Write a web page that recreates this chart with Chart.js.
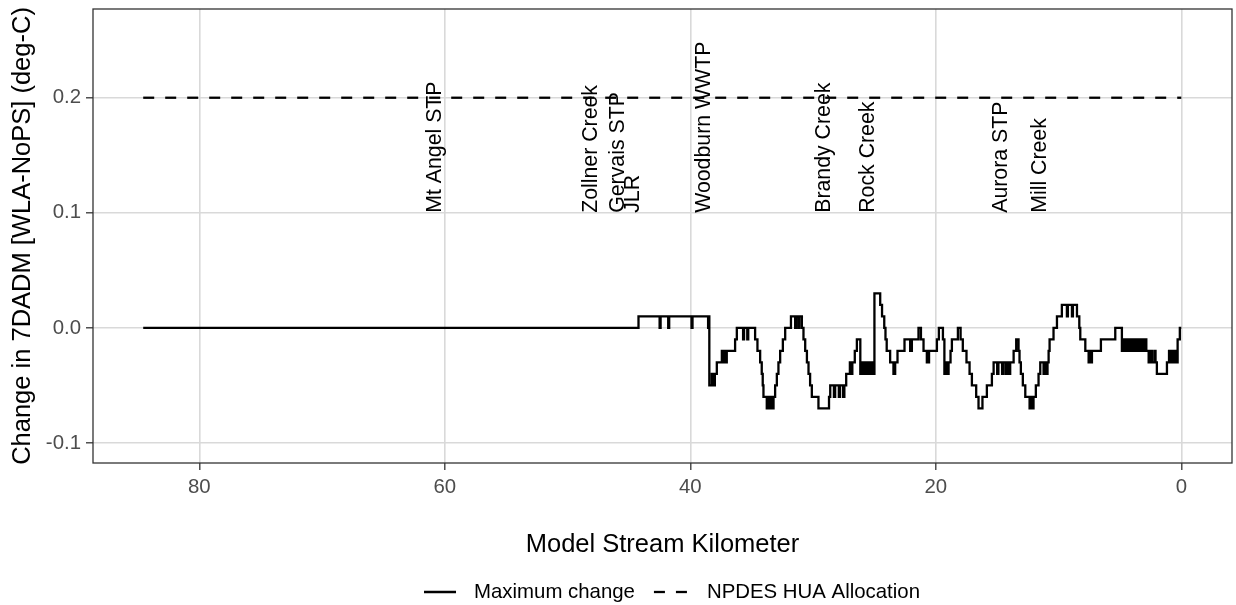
<!DOCTYPE html>
<html>
<head>
<meta charset="utf-8">
<script src="https://cdn.jsdelivr.net/npm/chart.js@4.4.0/dist/chart.umd.min.js"></script>
<style>
  html, body { margin: 0; padding: 0; background: #fff; }
</style>
</head>
<body>
<canvas id="myChart" width="1236" height="605"></canvas>
<script>
// step breakpoints of the max change line (km going downstream, value held until next km)
const km = [
  84.57, 44.22, 42.5, 42.42, 41.8, 41.72, 39.9, 39.82, 38.55, 38.5,
  38.45, 38.25, 38.15, 38.0, 37.84, 37.43, 37.35, 37.2, 37.1, 37.03,
  36.35, 36.21, 35.7, 35.62, 35.36, 35.28, 34.72, 34.53, 34.31, 34.18,
  34.1, 34.04, 33.77, 33.65, 33.55, 33.4, 33.3, 33.22, 33.09, 32.95,
  32.82, 32.68, 32.46, 32.27, 31.8, 31.46, 31.38, 31.19, 31.11, 30.91,
  30.78, 30.64, 30.5, 30.37, 30.24, 30.1, 29.56, 28.7, 28.6, 28.3,
  28.2, 27.9, 27.8, 27.55, 27.45, 27.3, 27.0, 26.9, 26.8, 26.6,
  26.43, 26.15, 26.0, 25.9, 25.75, 25.65, 25.5, 25.4, 25.25, 25.15,
  25.0, 24.53, 24.38, 24.2, 24.1, 24.0, 23.72, 23.45, 23.31, 23.12,
  22.55, 22.09, 21.95, 21.41, 21.21, 21.0, 20.73, 20.55, 19.91, 19.75,
  19.42, 19.3, 19.15, 19.05, 18.96, 18.8, 18.69, 18.2, 17.98, 17.8,
  17.5, 17.25, 17.06, 16.71, 16.52, 16.2, 15.84, 15.43, 15.29, 15.0,
  14.9, 14.6, 14.5, 14.3, 14.2, 14.05, 13.94, 13.66, 13.45, 13.26,
  13.18, 13.07, 12.91, 12.71, 12.36, 12.25, 12.15, 12.04, 11.85, 11.63,
  11.49, 11.22, 11.1, 11.0, 10.9, 10.81, 10.73, 10.41, 10.13, 9.73,
  9.32, 9.24, 8.91, 8.83, 8.5, 8.31, 8.23, 7.82, 7.55, 7.47,
  7.36, 7.28, 6.55, 5.38, 4.84, 4.7, 4.6, 4.45, 4.35, 4.2,
  4.1, 3.95, 3.85, 3.7, 3.6, 3.45, 3.35, 3.2, 3.1, 2.95,
  2.85, 2.66, 2.5, 2.4, 2.2, 2.1, 1.99, 1.17, 1.0, 0.9,
  0.75, 0.65, 0.5, 0.4, 0.3, 0.12, 0.0
]
const maxChange = [
  0, 0.01, 0, 0.01, 0, 0.01, 0, 0.01, 0, 0.01,
  -0.05, -0.04, -0.05, -0.04, -0.03, -0.02, -0.03, -0.02, -0.03, -0.02,
  -0.01, 0, -0.01, 0, -0.01, 0, -0.01, -0.02, -0.03, -0.04,
  -0.05, -0.06, -0.07, -0.06, -0.07, -0.06, -0.07, -0.06, -0.05, -0.04,
  -0.03, -0.02, -0.01, 0, 0.01, 0, 0.01, 0, 0.01, 0,
  -0.01, -0.02, -0.03, -0.04, -0.05, -0.06, -0.07, -0.06, -0.05, -0.06,
  -0.05, -0.06, -0.05, -0.06, -0.05, -0.04, -0.03, -0.04, -0.03, -0.02,
  -0.01, -0.04, -0.03, -0.04, -0.03, -0.04, -0.03, -0.04, -0.03, -0.04,
  0.03, 0.02, 0.01, 0, -0.01, -0.02, -0.03, -0.04, -0.03, -0.02,
  -0.01, -0.02, -0.01, 0, -0.01, -0.02, -0.03, -0.02, -0.01, 0,
  -0.01, -0.04, -0.03, -0.04, -0.03, -0.02, -0.01, 0, -0.01, -0.02,
  -0.03, -0.04, -0.05, -0.06, -0.07, -0.06, -0.05, -0.04, -0.03, -0.04,
  -0.03, -0.04, -0.03, -0.04, -0.03, -0.04, -0.03, -0.02, -0.01, -0.02,
  -0.03, -0.04, -0.05, -0.06, -0.07, -0.06, -0.07, -0.06, -0.05, -0.04,
  -0.03, -0.04, -0.03, -0.04, -0.03, -0.02, -0.01, 0, 0.01, 0.02,
  0.01, 0.02, 0.01, 0.02, 0.01, 0, -0.01, -0.02, -0.03, -0.02,
  -0.03, -0.02, -0.01, 0, -0.02, -0.01, -0.02, -0.01, -0.02, -0.01,
  -0.02, -0.01, -0.02, -0.01, -0.02, -0.01, -0.02, -0.01, -0.02, -0.01,
  -0.02, -0.03, -0.02, -0.03, -0.02, -0.03, -0.04, -0.03, -0.02, -0.03,
  -0.02, -0.03, -0.02, -0.03, -0.01, 0, 0
]

// NPDES allocation line
const allocKm = [84.57, 0]
const allocValue = [0.2, 0.2]

// point sources / tributaries
const siteNames = ['Mt Angel STP', 'Zollner Creek', 'Gervais STP', 'JLR', 'Woodburn WWTP',
  'Brandy Creek', 'Rock Creek', 'Aurora STP', 'Mill Creek']
const siteKm = [60.75, 48.1, 45.9, 44.65, 38.9, 29.1, 25.5, 14.7, 11.5]
const siteLabelY = 0.1

const xTicks = [0, 20, 40, 60, 80]
const yTicks = [-0.1, 0, 0.1, 0.2]

const FONT = '"Liberation Sans", Arial, sans-serif'

const extras = {
  id: 'extras',
  afterDatasetsDraw(chart) {
    const {ctx, chartArea: a, scales: {x, y}} = chart
    ctx.save()
    ctx.font = '21.3px ' + FONT
    ctx.fillStyle = '#000'
    ctx.textAlign = 'left'
    ctx.textBaseline = 'middle'
    siteNames.forEach((name, i) => {
      ctx.save()
      ctx.translate(x.getPixelForValue(siteKm[i]), y.getPixelForValue(siteLabelY))
      ctx.rotate(-Math.PI / 2)
      ctx.fillText(name, 0, 0)
      ctx.restore()
    })
    ctx.strokeStyle = '#333'
    ctx.lineWidth = 1.3
    ctx.strokeRect(a.left, a.top, a.right - a.left, a.bottom - a.top)
    ctx.restore()
  },
  afterDraw(chart) {
    // legend under the axis title
    const ctx = chart.ctx
    const ds = chart.data.datasets
    const sampleW = [32, 35]
    ctx.save()
    ctx.font = '20.4px ' + FONT
    let total = 0
    ds.forEach((d, i) => {
      total += sampleW[i] + 18 + ctx.measureText(d.label).width + (i < ds.length - 1 ? 19 : 0)
    })
    let cx = 672 - total / 2
    const cy = 592
    ds.forEach((d, i) => {
      ctx.beginPath()
      ctx.setLineDash(d.borderDash || [])
      ctx.strokeStyle = d.borderColor
      ctx.lineWidth = d.borderWidth
      ctx.moveTo(cx, cy)
      ctx.lineTo(cx + sampleW[i], cy)
      ctx.stroke()
      ctx.setLineDash([])
      cx += sampleW[i] + 18
      ctx.fillStyle = '#000'
      ctx.textAlign = 'left'
      ctx.textBaseline = 'middle'
      ctx.fillText(d.label, cx, cy)
      cx += ctx.measureText(d.label).width + 19
    })
    ctx.restore()
  }
}

const ctx = document.getElementById('myChart')

const data = {
  datasets: [{
    label: 'Maximum change',
    data: km.map((k, i) => ({x: k, y: maxChange[i]})),
    borderColor: '#000',
    borderWidth: 2.3,
    stepped: true,
    pointRadius: 0,
    fill: false
  }, {
    label: 'NPDES HUA Allocation',
    data: allocKm.map((k, i) => ({x: k, y: allocValue[i]})),
    borderColor: '#000',
    borderWidth: 2.3,
    borderDash: [11, 11],
    pointRadius: 0,
    fill: false
  }]
}

const gridCol = '#d9d9d9'

const config = {
  type: 'line',
  data: data,
  plugins: [extras],
  options: {
    responsive: false,
    animation: false,
    layout: { padding: { top: 9, right: 4, left: 0, bottom: 0 } },
    plugins: {
      legend: { display: false },
      tooltip: { enabled: false }
    },
    scales: {
      x: {
        type: 'linear',
        reverse: true,
        min: -4.13,
        max: 88.66,
        afterBuildTicks: s => { s.ticks = xTicks.map(v => ({value: v})) },
        afterFit: s => { s.height = 142; s.paddingLeft = 0; s.paddingRight = 0 },
        border: { display: false },
        grid: { color: gridCol, lineWidth: 1.6, tickColor: '#333', tickLength: 7, tickWidth: 1.3 },
        ticks: {
          autoSkip: false, maxRotation: 0, padding: 5, color: '#4d4d4d',
          font: { family: FONT, size: 20.4 },
          callback: v => String(v)
        },
        title: {
          display: true, text: 'Model Stream Kilometer', color: '#000',
          font: { family: FONT, size: 25.5 }, padding: { top: 0, bottom: 44.7 }
        }
      },
      y: {
        type: 'linear',
        min: -0.1174,
        max: 0.2771,
        afterBuildTicks: s => { s.ticks = yTicks.map(v => ({value: v})) },
        afterFit: s => { s.width = 93; s.paddingTop = 0; s.paddingBottom = 0 },
        border: { display: false },
        grid: { color: gridCol, lineWidth: 1.6, tickColor: '#333', tickLength: 7, tickWidth: 1.3 },
        ticks: {
          autoSkip: false, padding: 5, color: '#4d4d4d',
          font: { family: FONT, size: 20.4 },
          callback: v => v.toFixed(1)
        },
        title: {
          display: true, text: 'Change in 7DADM [WLA-NoPS] (deg-C)', color: '#000',
          font: { family: FONT, size: 25.5 }, padding: { top: 7.7, bottom: 0 }
        }
      }
    }
  }
}

const myChart = new Chart(ctx, config)
</script>
</body>
</html>
